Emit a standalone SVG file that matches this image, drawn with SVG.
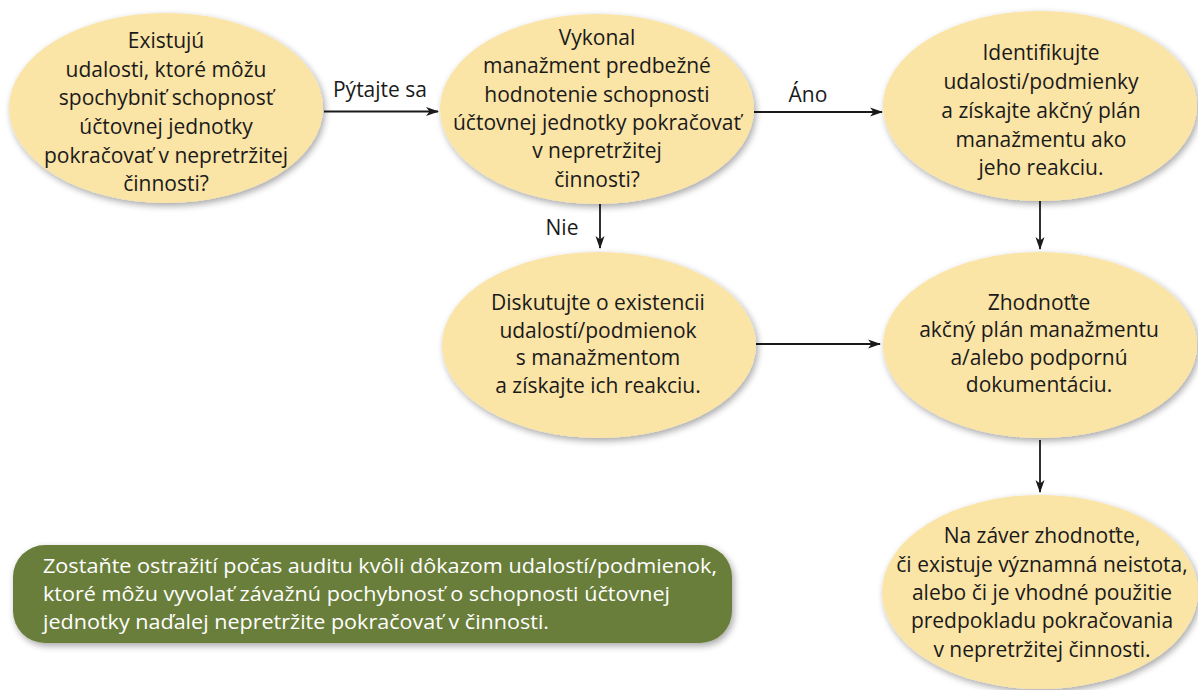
<svg xmlns="http://www.w3.org/2000/svg" width="1198" height="690" viewBox="0 0 1198 690">
  <style>
    .node { fill: #fae4a6; filter: url(#shadow); }
    .t { font-family: "Open Sans", "Liberation Sans", sans-serif; font-size: 21px; fill: #1a1a1a; text-anchor: middle; }
    .lbl { font-family: "Open Sans", "Liberation Sans", sans-serif; font-size: 21px; fill: #1a1a1a; text-anchor: middle; }
    .note { font-family: "Open Sans", "Liberation Sans", sans-serif; font-size: 20.5px; fill: #ffffff; }
    .edge { stroke: #1a1a1a; stroke-width: 1.8; fill: none; marker-end: url(#arrow); }
  </style>
  <defs>
    <filter id="shadow" x="-10%" y="-10%" width="125%" height="130%">
      <feGaussianBlur in="SourceAlpha" stdDeviation="3.5"/>
      <feOffset dx="2" dy="3" result="b"/>
      <feComponentTransfer><feFuncA type="linear" slope="0.35"/></feComponentTransfer>
      <feMerge><feMergeNode/><feMergeNode in="SourceGraphic"/></feMerge>
    </filter>
    <marker id="arrow" markerWidth="14" markerHeight="10" refX="12" refY="5" orient="auto" markerUnits="userSpaceOnUse">
      <path d="M0,0.5 L13,5 L0,9.5 L3.5,5 Z" fill="#1a1a1a"/>
    </marker>
  </defs>

  <rect width="1198" height="690" fill="#ffffff"/>

  <!-- connectors and their labels -->
  <g id="connectors">
    <line class="edge" x1="324" y1="111.5" x2="438" y2="111.5"/>
    <line class="edge" x1="754" y1="112" x2="882" y2="112"/>
    <line class="edge" x1="600" y1="204" x2="600" y2="248"/>
    <line class="edge" x1="1040" y1="200" x2="1040" y2="249"/>
    <line class="edge" x1="756" y1="344" x2="880" y2="344"/>
    <line class="edge" x1="1040" y1="440" x2="1040" y2="492"/>
    <text class="lbl" x="380" y="97">Pýtajte sa</text>
    <text class="lbl" x="808" y="102">Áno</text>
    <text class="lbl" x="562" y="235">Nie</text>
  </g>

  <g id="n1">
    <ellipse class="node" cx="166" cy="108" rx="157" ry="95"/>
    <text class="t" x="166" y="48">Existujú</text>
    <text class="t" x="166" y="77">udalosti, ktoré môžu</text>
    <text class="t" x="166" y="105">spochybniť schopnosť</text>
    <text class="t" x="166" y="134">účtovnej jednotky</text>
    <text class="t" x="166" y="163">pokračovať v nepretržitej</text>
    <text class="t" x="166" y="191">činnosti?</text>
  </g>

  <g id="n2">
    <ellipse class="node" cx="597" cy="109" rx="157" ry="95"/>
    <text class="t" x="597" y="45">Vykonal</text>
    <text class="t" x="597" y="73">manažment predbežné</text>
    <text class="t" x="597" y="102">hodnotenie schopnosti</text>
    <text class="t" x="597" y="130">účtovnej jednotky pokračovať</text>
    <text class="t" x="597" y="158">v nepretržitej</text>
    <text class="t" x="597" y="187">činnosti?</text>
  </g>

  <g id="n3">
    <ellipse class="node" cx="1040" cy="106" rx="157" ry="95"/>
    <text class="t" x="1041" y="60">Identifikujte</text>
    <text class="t" x="1041" y="89">udalosti/podmienky</text>
    <text class="t" x="1041" y="118">a získajte akčný plán</text>
    <text class="t" x="1041" y="147">manažmentu ako</text>
    <text class="t" x="1041" y="175">jeho reakciu.</text>
  </g>

  <g id="n4">
    <ellipse class="node" cx="599" cy="345" rx="157" ry="93"/>
    <text class="t" x="598" y="310">Diskutujte o existencii</text>
    <text class="t" x="598" y="338">udalostí/podmienok</text>
    <text class="t" x="598" y="365">s manažmentom</text>
    <text class="t" x="598" y="393">a získajte ich reakciu.</text>
  </g>

  <g id="n5">
    <ellipse class="node" cx="1040" cy="345" rx="157" ry="93"/>
    <text class="t" x="1039" y="310">Zhodnoťte</text>
    <text class="t" x="1039" y="337">akčný plán manažmentu</text>
    <text class="t" x="1039" y="365">a/alebo podpornú</text>
    <text class="t" x="1039" y="392">dokumentáciu.</text>
  </g>

  <g id="n6">
    <ellipse class="node" cx="1040" cy="592" rx="158" ry="97"/>
    <text class="t" x="1042" y="543">Na záver zhodnoťte,</text>
    <text class="t" x="1042" y="572">či existuje významná neistota,</text>
    <text class="t" x="1042" y="600">alebo či je vhodné použitie</text>
    <text class="t" x="1042" y="628">predpokladu pokračovania</text>
    <text class="t" x="1042" y="657">v nepretržitej činnosti.</text>
  </g>

  <g id="note">
    <rect x="13" y="545" width="719" height="98" rx="32" fill="#6b7e3b" filter="url(#shadow)"/>
    <text class="note" x="43" y="573" textLength="674" lengthAdjust="spacingAndGlyphs">Zostaňte ostražití počas auditu kvôli dôkazom udalostí/podmienok,</text>
    <text class="note" x="43" y="601" textLength="627" lengthAdjust="spacingAndGlyphs">ktoré môžu vyvolať závažnú pochybnosť o schopnosti účtovnej</text>
    <text class="note" x="43" y="629" textLength="506" lengthAdjust="spacingAndGlyphs">jednotky naďalej nepretržite pokračovať v činnosti.</text>
  </g>
</svg>
